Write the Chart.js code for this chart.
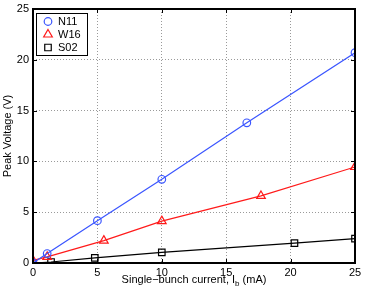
<!DOCTYPE html>
<html>
<head>
<meta charset="utf-8">
<script src="https://cdn.jsdelivr.net/npm/chart.js@4"></script>
<style>
  html, body { margin: 0; padding: 0; background: #fff; }
  #wrap { width: 366px; height: 294px; }
</style>
</head>
<body>
<div id="wrap"><canvas id="chart" width="366" height="294"></canvas></div>
<script>
// ── Data ──
const seriesNames = ['N11', 'W16', 'S02'];
const currentN11 = [0, 1.1, 5, 10, 16.6, 25];
const voltageN11 = [0, 0.93, 4.17, 8.24, 13.8, 20.7];
const currentW16 = [0, 1.1, 5.5, 10, 17.7, 25];
const voltageW16 = [0.25, 0.6, 2.2, 4.12, 6.6, 9.45];
const currentS02 = [0, 1.4, 4.8, 10, 20.3, 25];
const voltageS02 = [0, 0.1, 0.5, 1.05, 1.95, 2.4];
const xTicks = [0, 5, 10, 15, 20, 25];
const yTicks = [0, 5, 10, 15, 20, 25];

const FONT = 'Liberation Sans, Arial, Helvetica, sans-serif';
const pts = (xs, ys) => xs.map((x, i) => ({ x, y: ys[i] }));

const styles = [
  { color: '#3a55ff', pointStyle: 'circle', radius: 3.8 },
  { color: '#ff1a1a', pointStyle: 'triangle', radius: 5 },
  { color: '#000000', pointStyle: 'rect', radius: 4.6 }
];
const allData = [pts(currentN11, voltageN11), pts(currentW16, voltageW16), pts(currentS02, voltageS02)];

const datasets = seriesNames.map((name, i) => ({
  label: name,
  data: allData[i],
  borderColor: styles[i].color,
  backgroundColor: 'transparent',
  borderWidth: 1.2,
  pointStyle: styles[i].pointStyle,
  pointRadius: styles[i].radius,
  pointBorderWidth: 1.2,
  pointBorderColor: styles[i].color,
  pointBackgroundColor: 'transparent',
  showLine: true,
  tension: 0
}));

// ── Box, inward ticks, legend, axis titles ──
const matlabDecor = {
  id: 'matlabDecor',
  afterDraw(chart) {
    const { ctx, chartArea: a, scales } = chart;
    ctx.save();
    // inward ticks
    ctx.strokeStyle = '#000';
    ctx.lineWidth = 1;
    ctx.beginPath();
    xTicks.forEach(v => {
      const px = Math.round(scales.x.getPixelForValue(v)) + 0.5;
      ctx.moveTo(px, a.bottom); ctx.lineTo(px, a.bottom - 4);
      ctx.moveTo(px, a.top); ctx.lineTo(px, a.top + 4);
    });
    yTicks.forEach(v => {
      const py = Math.round(scales.y.getPixelForValue(v)) + 0.5;
      ctx.moveTo(a.left, py); ctx.lineTo(a.left + 4, py);
      ctx.moveTo(a.right, py); ctx.lineTo(a.right - 4, py);
    });
    ctx.stroke();
    // frame
    ctx.lineWidth = 2;
    ctx.strokeRect(a.left, a.top, a.right - a.left, a.bottom - a.top);

    // legend
    const lx = a.left + 3, ly = a.top + 4, lw = 51, lh = 42;
    ctx.fillStyle = '#fff';
    ctx.fillRect(lx, ly, lw, lh);
    ctx.lineWidth = 1;
    ctx.strokeStyle = '#000';
    ctx.strokeRect(lx + 0.5, ly + 0.5, lw, lh);
    ctx.font = '11px ' + FONT;
    ctx.textBaseline = 'middle';
    ctx.textAlign = 'left';
    chart.data.datasets.forEach((ds, i) => {
      const cy = ly + 8.5 + i * 13;
      ctx.lineWidth = 1.2;
      ctx.strokeStyle = ds.borderColor;
      ctx.fillStyle = 'rgba(0,0,0,0)';
      Chart.helpers.drawPoint(ctx, { pointStyle: ds.pointStyle, radius: ds.pointRadius, borderWidth: 1.2, rotation: 0 }, lx + 12, cy);
      ctx.fillStyle = '#000';
      ctx.fillText(ds.label, lx + 22, cy + 0.5);
    });

    // y title
    ctx.fillStyle = '#000';
    ctx.font = '11px ' + FONT;
    ctx.save();
    ctx.translate(8, (a.top + a.bottom) / 2);
    ctx.rotate(-Math.PI / 2);
    ctx.textAlign = 'center';
    ctx.textBaseline = 'middle';
    ctx.fillText('Peak Voltage (V)', 0, 0);
    ctx.restore();

    // x title with subscript
    const parts = ['Single\u2212bunch current, I', 'b', ' (mA)'];
    const big = '11px ' + FONT, small = '8px ' + FONT;
    ctx.font = big; const w0 = ctx.measureText(parts[0]).width, w2 = ctx.measureText(parts[2]).width;
    ctx.font = small; const w1 = ctx.measureText(parts[1]).width;
    let tx = (a.left + a.right) / 2 - (w0 + w1 + w2) / 2;
    const by = 283;
    ctx.textAlign = 'left';
    ctx.textBaseline = 'alphabetic';
    ctx.font = big; ctx.fillText(parts[0], tx, by); tx += w0;
    ctx.font = small; ctx.fillText(parts[1], tx, by + 3); tx += w1;
    ctx.font = big; ctx.fillText(parts[2], tx, by);
    ctx.restore();
  }
};

new Chart(document.getElementById('chart'), {
  type: 'scatter',
  data: { datasets },
  plugins: [matlabDecor],
  options: {
    responsive: false,
    animation: false,
    layout: { padding: { top: 9, right: 11, left: 0, bottom: 0 } },
    plugins: { legend: { display: false }, tooltip: { enabled: false } },
    scales: {
      x: {
        type: 'linear', min: 0, max: 25,
        afterBuildTicks: s => { s.ticks = xTicks.map(v => ({ value: v })); },
        afterFit: s => { s.height = 31; s.paddingLeft = 0; s.paddingRight = 0; },
        ticks: { color: '#000', font: { family: FONT, size: 11 }, padding: 3, maxRotation: 0 },
        grid: { color: '#9a9a9a', lineWidth: 1, drawTicks: false },
        border: { display: false, dash: [1, 2] }
      },
      y: {
        type: 'linear', min: 0, max: 25,
        afterBuildTicks: s => { s.ticks = yTicks.map(v => ({ value: v })); },
        afterFit: s => { s.width = 33; s.paddingTop = 0; s.paddingBottom = 0; },
        ticks: { color: '#000', font: { family: FONT, size: 11 }, padding: 4 },
        grid: { color: '#9a9a9a', lineWidth: 1, drawTicks: false },
        border: { display: false, dash: [1, 2] }
      }
    }
  }
});
</script>
</body>
</html>
